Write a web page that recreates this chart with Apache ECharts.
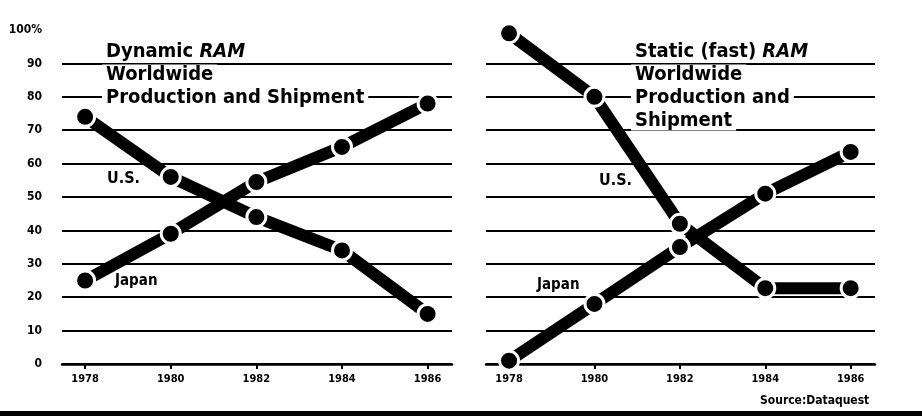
<!DOCTYPE html>
<html>
<head>
<meta charset="utf-8">
<script src="https://cdn.jsdelivr.net/npm/echarts@6/dist/echarts.min.js"></script>
<style>
  html, body { margin: 0; padding: 0; background: #fff; }
  #chart { width: 922px; height: 418px; }
</style>
</head>
<body>
<div id="chart"></div>
<script>
// years on the x axis
var years = [1978, 1980, 1982, 1984, 1986]
var yTicks = [0, 10, 20, 30, 40, 50, 60, 70, 80, 90, 100]

// Dynamic RAM share, %
var dramUS = [74, 56, 44, 34, 15]
var dramJapan = [25, 39, 54.5, 65, 78]

// Static (fast) RAM share, %
var sramUS = [99, 80, 42, 22.7, 22.7]
var sramJapan = [1, 18, 35, 51, 63.5]

var font = '"DejaVu Sans Condensed", "Liberation Sans Narrow", sans-serif'

function pairs(vals) {
  return years.map(function (y, i) { return [y, vals[i]] })
}

function xAxis(idx) {
  return {
    type: 'value',
    gridIndex: idx,
    min: 1977.46,
    max: 1986.57,
    splitLine: { show: false },
    axisLine: { show: true, onZero: false, lineStyle: { color: '#000', width: 2.5 } },
    axisTick: { show: true, customValues: years, length: 5, lineStyle: { color: '#000', width: 2 } },
    axisLabel: {
      customValues: years,
      color: '#000',
      fontFamily: font,
      fontWeight: 'bold',
      fontSize: 11,
      margin: 10,
      formatter: function (v) { return String(v) }
    }
  }
}

function yAxis(idx, showLabels) {
  return {
    type: 'value',
    gridIndex: idx,
    min: 0,
    max: 100,
    interval: 10,
    axisLine: { show: false },
    axisTick: { show: false },
    splitLine: { show: true, showMaxLine: false, lineStyle: { color: '#000', width: 2 } },
    axisLabel: {
      show: showLabels,
      color: '#000',
      fontFamily: font,
      fontWeight: 'bold',
      fontSize: 12,
      margin: 20,
      formatter: function (v) { return v === 100 ? '100%' : String(v) }
    }
  }
}

function line(name, vals, idx) {
  return {
    name: name,
    type: 'line',
    xAxisIndex: idx,
    yAxisIndex: idx,
    data: pairs(vals),
    symbol: 'circle',
    symbolSize: 19,
    z: 5,
    lineStyle: { color: '#000', width: 12, cap: 'butt' },
    itemStyle: { color: '#000', borderColor: '#fff', borderWidth: 3 },
    emphasis: { disabled: true },
    animation: false
  }
}

var titleRich = {
  a: { fontFamily: font, fontWeight: 'bold', fontSize: 20, color: '#000', backgroundColor: '#fff', padding: [0, 4, 0, 4], lineHeight: 23 },
  b: { fontFamily: font, fontWeight: 'bold', fontSize: 20, color: '#000', backgroundColor: '#fff', padding: [0, 0, 0, 4], lineHeight: 23 },
  i: { fontFamily: font, fontWeight: 'bold', fontStyle: 'italic', fontSize: 20, color: '#000', backgroundColor: '#fff', padding: [0, 4, 0, 0], lineHeight: 23 }
}

var chart = echarts.init(document.getElementById('chart'))
chart.setOption({
  backgroundColor: '#fff',
  animation: false,
  title: [
    {
      text: '{b|Dynamic }{i|RAM}\n{a|Worldwide}\n{a|Production and Shipment}',
      left: 102,
      top: 40,
      padding: 0,
      textStyle: { rich: titleRich }
    },
    {
      text: '{b|Static (fast) }{i|RAM}\n{a|Worldwide}\n{a|Production and}\n{a|Shipment}',
      left: 631,
      top: 40,
      padding: 0,
      textStyle: { rich: titleRich }
    }
  ],
  grid: [
    { left: 62, top: 30, width: 390, height: 334 },
    { left: 486, top: 30, width: 389, height: 334 }
  ],
  xAxis: [xAxis(0), xAxis(1)],
  yAxis: [yAxis(0, true), yAxis(1, false)],
  series: [
    line('U.S.', dramUS, 0),
    line('Japan', dramJapan, 0),
    line('U.S.', sramUS, 1),
    line('Japan', sramJapan, 1)
  ],
  graphic: [
    { type: 'text', left: 107, top: 171, style: { text: 'U.S.', font: 'bold 16px ' + font, fill: '#000' } },
    { type: 'text', left: 115, top: 274, style: { text: 'Japan', font: 'bold 15px ' + font, fill: '#000' } },
    { type: 'text', left: 599, top: 173, style: { text: 'U.S.', font: 'bold 16px ' + font, fill: '#000' } },
    { type: 'text', left: 537, top: 278, style: { text: 'Japan', font: 'bold 15px ' + font, fill: '#000' } },
    { type: 'text', left: 760, top: 395, style: { text: 'Source:Dataquest', font: 'bold 12px ' + font, fill: '#000' } },
    { type: 'rect', left: 0, top: 411, shape: { width: 922, height: 5 }, style: { fill: '#000' } }
  ]
})
</script>
</body>
</html>
